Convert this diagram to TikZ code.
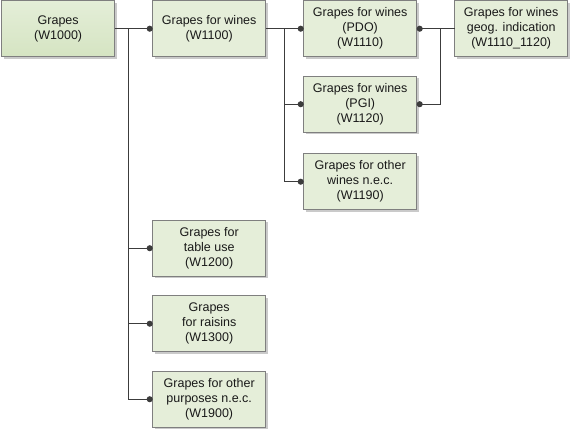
\documentclass[tikz,border=0pt]{standalone}
\usepackage{fontspec}
\setmainfont{Liberation Sans}
\usepackage{tikz}
\usetikzlibrary{arrows.meta,shadows}
\definecolor{boxfill}{HTML}{E5EED9}
\definecolor{roottop}{HTML}{E4EED8}
\definecolor{rootbot}{HTML}{D5E4C2}
\definecolor{boxline}{HTML}{7F7F7F}
\definecolor{wire}{HTML}{3C3C3C}
\tikzstyle{cat}=[rectangle, draw=boxline, line width=1bp, fill=boxfill,
  minimum width=113bp, minimum height=56bp, inner sep=1bp, outer sep=0pt,
  align=center, text=black!90,
  drop shadow={shadow xshift=2bp,shadow yshift=-2bp,fill=black!35,opacity=.6}]
\tikzstyle{link}=[draw=wire, line width=1.1bp]
\tikzstyle{tochild}=[link, -{Circle[length=6bp]}]
\tikzstyle{fromchild}=[link, {Circle[length=6bp]}-]

\begin{document}
\begin{tikzpicture}[x=1bp,y=-1bp,font=\fontsize{12.5bp}{15bp}\selectfont]
    \useasboundingbox (0,0) rectangle (572,429);
    \matrix[row sep=18.5bp,column sep=37bp,inner sep=0pt,anchor=north west] at (1,0) {
      \node (W1000) [cat,top color=roottop,bottom color=rootbot] {Grapes\\(W1000)}; &
      \node (W1100) [cat] {Grapes for wines\\(W1100)}; &
      \node (W1110) [cat] {Grapes for wines\\(PDO)\\(W1110)}; &
      \node (W1110_1120) [cat] {Grapes for wines\\geog. indication\\(W1110\_1120)};\\
      && \node (W1120) [cat] {Grapes for wines\\(PGI)\\(W1120)}; \\[2bp]
      && \node (W1190) [cat] {Grapes for other\\wines n.e.c.\\(W1190)}; \\[-9bp]
      & \node (W1200) [cat] {Grapes for\\table use\\(W1200)}; \\
      & \node (W1300) [cat] {Grapes\\for raisins\\(W1300)}; \\
      & \node (W1900) [cat] {Grapes for other\\purposes n.e.c.\\(W1900)}; \\
    };
    % branches of W1000
    \coordinate (T1) at ([xshift=14bp]W1000.east);
    \draw[link] (W1000.east) -- (T1);
    \foreach \c in {W1100,W1200,W1300,W1900}
      \draw[tochild] (T1) |- (\c.west);
    % branches of W1100
    \coordinate (T2) at ([xshift=19bp]W1100.east);
    \draw[link] (W1100.east) -- (T2);
    \foreach \c in {W1110,W1120,W1190}
      \draw[tochild] (T2) |- (\c.west);
    % PDO and PGI together
    \coordinate (T3) at ([xshift=24bp]W1110.east);
    \draw[fromchild] (W1110.east) -- (T3);
    \draw[fromchild] (W1120.east) -| (T3);
    \draw[link] (T3) -- (W1110_1120.west);
  \end{tikzpicture}
\end{document}
